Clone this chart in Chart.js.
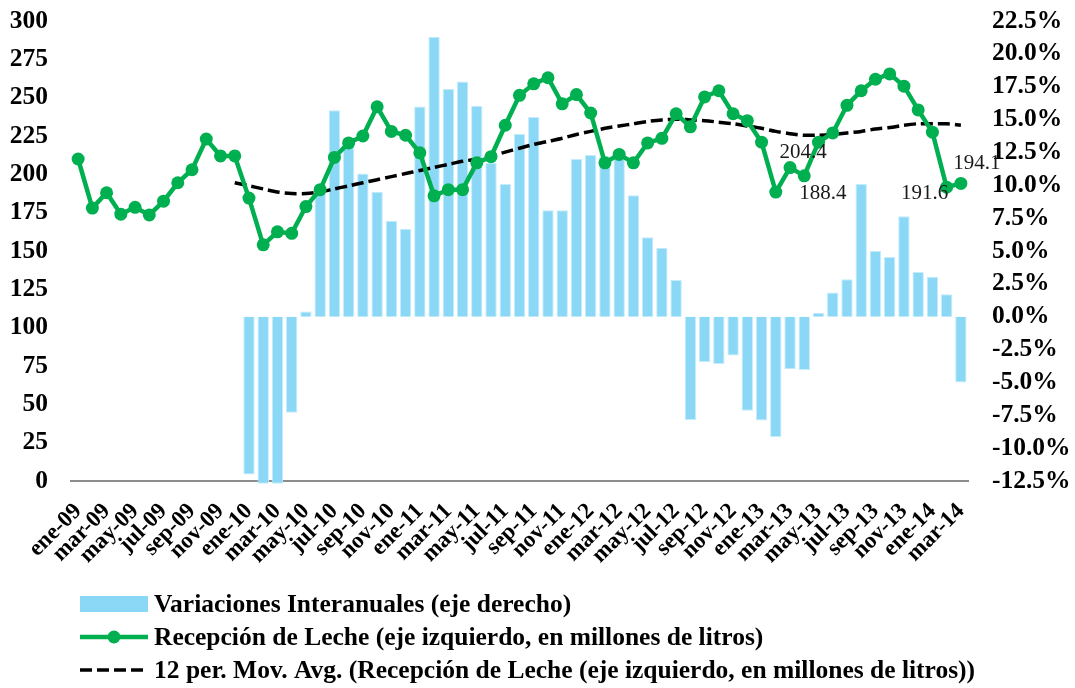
<!DOCTYPE html>
<html lang="es">
<head>
<meta charset="utf-8">
<title>Recepción de Leche</title>
<script src="https://cdn.jsdelivr.net/npm/chart.js@4.4.0/dist/chart.umd.min.js"></script>
<style>
    html, body { margin: 0; padding: 0; background: #ffffff; }
    #wrap { width: 1075px; height: 688px; }
</style>
</head>
<body>
<div id="wrap"><canvas id="lecheChart" width="1075" height="688"></canvas></div>
<script>
// =============================================
// DATA
// =============================================
const months = [
    'ene-09','feb-09','mar-09','abr-09','may-09','jun-09','jul-09','ago-09','sep-09','oct-09','nov-09','dic-09',
    'ene-10','feb-10','mar-10','abr-10','may-10','jun-10','jul-10','ago-10','sep-10','oct-10','nov-10','dic-10',
    'ene-11','feb-11','mar-11','abr-11','may-11','jun-11','jul-11','ago-11','sep-11','oct-11','nov-11','dic-11',
    'ene-12','feb-12','mar-12','abr-12','may-12','jun-12','jul-12','ago-12','sep-12','oct-12','nov-12','dic-12',
    'ene-13','feb-13','mar-13','abr-13','may-13','jun-13','jul-13','ago-13','sep-13','oct-13','nov-13','dic-13',
    'ene-14','feb-14','mar-14'
];

// millones de litros (eje izquierdo)
const recepcion = [
    210, 178, 188, 174, 178.5, 173.5, 182.5, 194.5, 203, 223, 212, 212,
    184.5, 154, 162.5, 161.5, 179, 190, 211, 220.5, 225, 244, 228, 225.5,
    214, 186, 190, 190, 207.5, 211.5, 232, 251.5, 259, 263, 246, 252,
    240, 207.5, 213, 207.5, 220.5, 223.5, 239.5, 231, 250.5, 254.5, 239.5, 235,
    221, 188.4, 204.4, 199, 221, 227, 245, 254.5, 262, 265.5, 257.5, 242,
    227.5, 191.6, 194.1
];

// 12 per. mov. avg. as drawn in the reference
const mediaMovil = [
    null, null, null, null, null, null, null, null, null, null, null, 194.5,
    192.5, 190.5, 188.5, 187.5, 187.5, 188.5, 190.5, 192.5, 194.5, 196.5, 198.5, 200.5,
    202.5, 204.5, 206.5, 208.5, 210, 212, 214.5, 217, 219.5, 221.5, 223.5, 226,
    228, 230, 231.5, 233, 234.5, 235.5, 236, 235.5, 235, 234, 233, 231.5,
    230, 228, 226.5, 225.5, 225.5, 226, 227, 228, 229.5, 230.5, 232, 233,
    233, 233, 232
];

// variaciones interanuales, % (eje derecho)
const variacion = [
    null, null, null, null, null, null, null, null, null, null, null, null,
    -12.0, -12.7, -12.7, -7.3, 0.4, 9.8, 15.7, 13.4, 10.9, 9.5, 7.3, 6.7,
    16.0, 21.3, 17.35, 17.9, 16.05, 11.7, 10.1, 13.9, 15.2, 8.1, 8.1, 12.0,
    12.3, 12.2, 12.0, 9.25, 6.05, 5.25, 2.8, -7.85, -3.45, -3.6, -2.95, -7.15,
    -7.9, -9.15, -4.0, -4.05, 0.3, 1.85, 2.85, 10.1, 5.0, 4.55, 7.65, 3.4,
    3.05, 1.7, -5.0
];

// points that carry a value label
const puntosEtiquetados = [49, 50, 61, 62];

// =============================================
// STYLE
// =============================================
const SERIF = '"Liberation Serif", "Times New Roman", Times, serif';
const BLUE  = '#8ad8f6';
const GREEN = '#00b050';

// label offsets from the point (px), matching the reference placement
const labelOffsets = { 49: [47, 1], 50: [13, -15], 61: [-22, 6], 62: [16, -20] };

const etiquetasPlugin = {
    id: 'etiquetas',
    afterDatasetsDraw(chart) {
        const meta = chart.getDatasetMeta(1);
        const ctx = chart.ctx;
        ctx.save();
        ctx.font = '21px ' + SERIF;
        ctx.fillStyle = '#1a1a1a';
        ctx.textAlign = 'center';
        ctx.textBaseline = 'middle';
        puntosEtiquetados.forEach(i => {
            const pt = meta.data[i];
            const off = labelOffsets[i] || [0, -18];
            ctx.fillText(recepcion[i].toFixed(1), pt.x + off[0], pt.y + off[1]);
        });
        ctx.restore();
    }
};

// Excel-like legend, one row per series
const leyendaPlugin = {
    id: 'leyenda',
    afterDraw(chart) {
        const ctx = chart.ctx;
        const ds = chart.data.datasets;
        const x0 = 80, x1 = 148, tx = 154;
        const rows = [604, 637, 670];
        ctx.save();
        ctx.font = 'bold 25.5px ' + SERIF;
        ctx.textBaseline = 'middle';
        ctx.textAlign = 'left';

        // bars
        ctx.fillStyle = BLUE;
        ctx.fillRect(x0, rows[0] - 8, x1 - x0, 16);

        // line with marker
        ctx.strokeStyle = GREEN;
        ctx.lineWidth = 4.5;
        ctx.beginPath(); ctx.moveTo(x0, rows[1]); ctx.lineTo(x1, rows[1]); ctx.stroke();
        ctx.fillStyle = GREEN;
        ctx.beginPath(); ctx.arc((x0 + x1) / 2, rows[1], 6.5, 0, Math.PI * 2); ctx.fill();

        // dashed moving average
        ctx.strokeStyle = '#000';
        ctx.lineWidth = 3.5;
        ctx.setLineDash([12, 5]);
        ctx.beginPath(); ctx.moveTo(x0, rows[2]); ctx.lineTo(x1, rows[2]); ctx.stroke();
        ctx.setLineDash([]);

        ctx.fillStyle = '#000';
        [ds[0], ds[1], ds[2]].forEach((d, k) => ctx.fillText(d.label, tx, rows[k] + 1));
        ctx.restore();
    }
};

// y axes: fixed width, no extra top/bottom padding
const fitY = w => s => { s.width = w; s.paddingTop = 0; s.paddingBottom = 0; };

new Chart(document.getElementById('lecheChart'), {
    data: {
        labels: months,
        datasets: [
            {
                type: 'bar',
                label: 'Variaciones Interanuales (eje derecho)',
                data: variacion,
                yAxisID: 'y1',
                backgroundColor: BLUE,
                borderColor: '#c4ecfb',
                borderWidth: 1,
                categoryPercentage: 1,
                barPercentage: 0.8,
                clip: false,
                order: 3
            },
            {
                type: 'line',
                label: 'Recepción de Leche (eje izquierdo, en millones de litros)',
                data: recepcion,
                yAxisID: 'y',
                borderColor: GREEN,
                backgroundColor: GREEN,
                borderWidth: 4.5,
                pointRadius: 6.5,
                pointBackgroundColor: GREEN,
                pointBorderWidth: 0,
                tension: 0,
                order: 1
            },
            {
                type: 'line',
                label: '12 per. Mov. Avg. (Recepción de Leche (eje izquierdo, en millones de litros))',
                data: mediaMovil,
                yAxisID: 'y',
                borderColor: '#000000',
                borderWidth: 3.5,
                borderDash: [12, 5],
                pointRadius: 0,
                tension: 0.3,
                order: 2
            }
        ]
    },
    options: {
        responsive: false,
        animation: false,
        layout: { padding: { top: 21, bottom: 107, left: 0, right: 0 } },
        plugins: {
            legend: { display: false },
            tooltip: { enabled: false }
        },
        scales: {
            x: {
                offset: true,
                grid: { display: false, drawTicks: false },
                border: { display: true, color: '#8c8c8c', width: 2 },
                ticks: {
                    autoSkip: false,
                    maxRotation: 45,
                    minRotation: 45,
                    padding: 17,
                    color: '#000',
                    font: { family: SERIF, size: 23, weight: 'bold' },
                    callback: (v, i) => (i % 2 === 0 ? months[i] : '')
                },
                afterFit: s => { s.height = 100; }
            },
            y: {
                position: 'left',
                min: 0,
                max: 300,
                grid: { display: false, drawTicks: false },
                border: { display: false },
                ticks: {
                    autoSkip: false,
                    stepSize: 25,
                    padding: 23,
                    color: '#000',
                    font: { family: SERIF, size: 25.5, weight: 'bold' }
                },
                afterFit: fitY(71)
            },
            y1: {
                position: 'right',
                min: -12.5,
                max: 22.5,
                grid: { display: false, drawTicks: false },
                border: { display: false },
                ticks: {
                    autoSkip: false,
                    stepSize: 2.5,
                    padding: 24,
                    color: '#000',
                    font: { family: SERIF, size: 25.5, weight: 'bold' },
                    callback: v => v.toFixed(1) + '%'
                },
                afterFit: fitY(107)
            }
        }
    },
    plugins: [etiquetasPlugin, leyendaPlugin]
});
</script>
</body>
</html>
